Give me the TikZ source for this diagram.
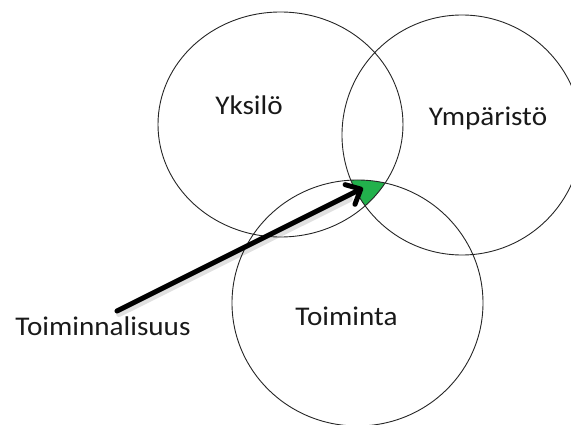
\documentclass[tikz,border=0pt]{standalone}
\usepackage{fontspec}
\setmainfont{Carlito}
\usetikzlibrary{arrows.meta}
\definecolor{areagreen}{RGB}{34,177,76}
\begin{document}
\begin{tikzpicture}[x=1pt,y=-1pt,
  ring/.style={draw=black!85, line width=0.9pt},
  txt/.style={font=\fontsize{27}{32}\selectfont, xscale=1.08, anchor=base, inner sep=0pt, text=black!90},
  pointer/.style={line width=5pt, line cap=round,
    -{Straight Barb[length=12pt,width=22pt,line cap=round,line join=round]}},
  pshadow/.style={line width=6pt, black, opacity=0.12, line cap=round}]
\useasboundingbox (0,0) rectangle (571,425);

% common area of the three sets
\begin{scope}
  \clip (280.5,124.5) ellipse [x radius=122.5pt, y radius=112.5pt];
  \clip (462,135) ellipse [x radius=120pt, y radius=120pt];
  \fill[areagreen] (357.5,303) ellipse [x radius=125.5pt, y radius=123pt];
\end{scope}

% the three sets
\draw[ring] (280.5,124.5) ellipse [x radius=122.5pt, y radius=112.5pt];
\draw[ring] (462,135) ellipse [x radius=120pt, y radius=120pt];
\draw[ring] (357.5,303) ellipse [x radius=125.5pt, y radius=123pt];

% set names
\node[txt] (yksilo) at (249,115) {Yksilö};
\node[txt] (ymparisto) at (488,126) {Ympäristö};
\node[txt] (toiminta) at (346.5,325) {Toiminta};
\node[txt] (toiminnalisuus) at (103,335) {Toiminnalisuus};

% pointer to the common area
\coordinate (tail) at (117,311);
\coordinate (tip) at (363,188);
\coordinate (tailS) at (119,314);
\coordinate (tipS) at (350,199);
\draw[pshadow] (tailS) -- (tipS);
\draw[pointer] (tail) -- (tip);
\end{tikzpicture}
\end{document}
